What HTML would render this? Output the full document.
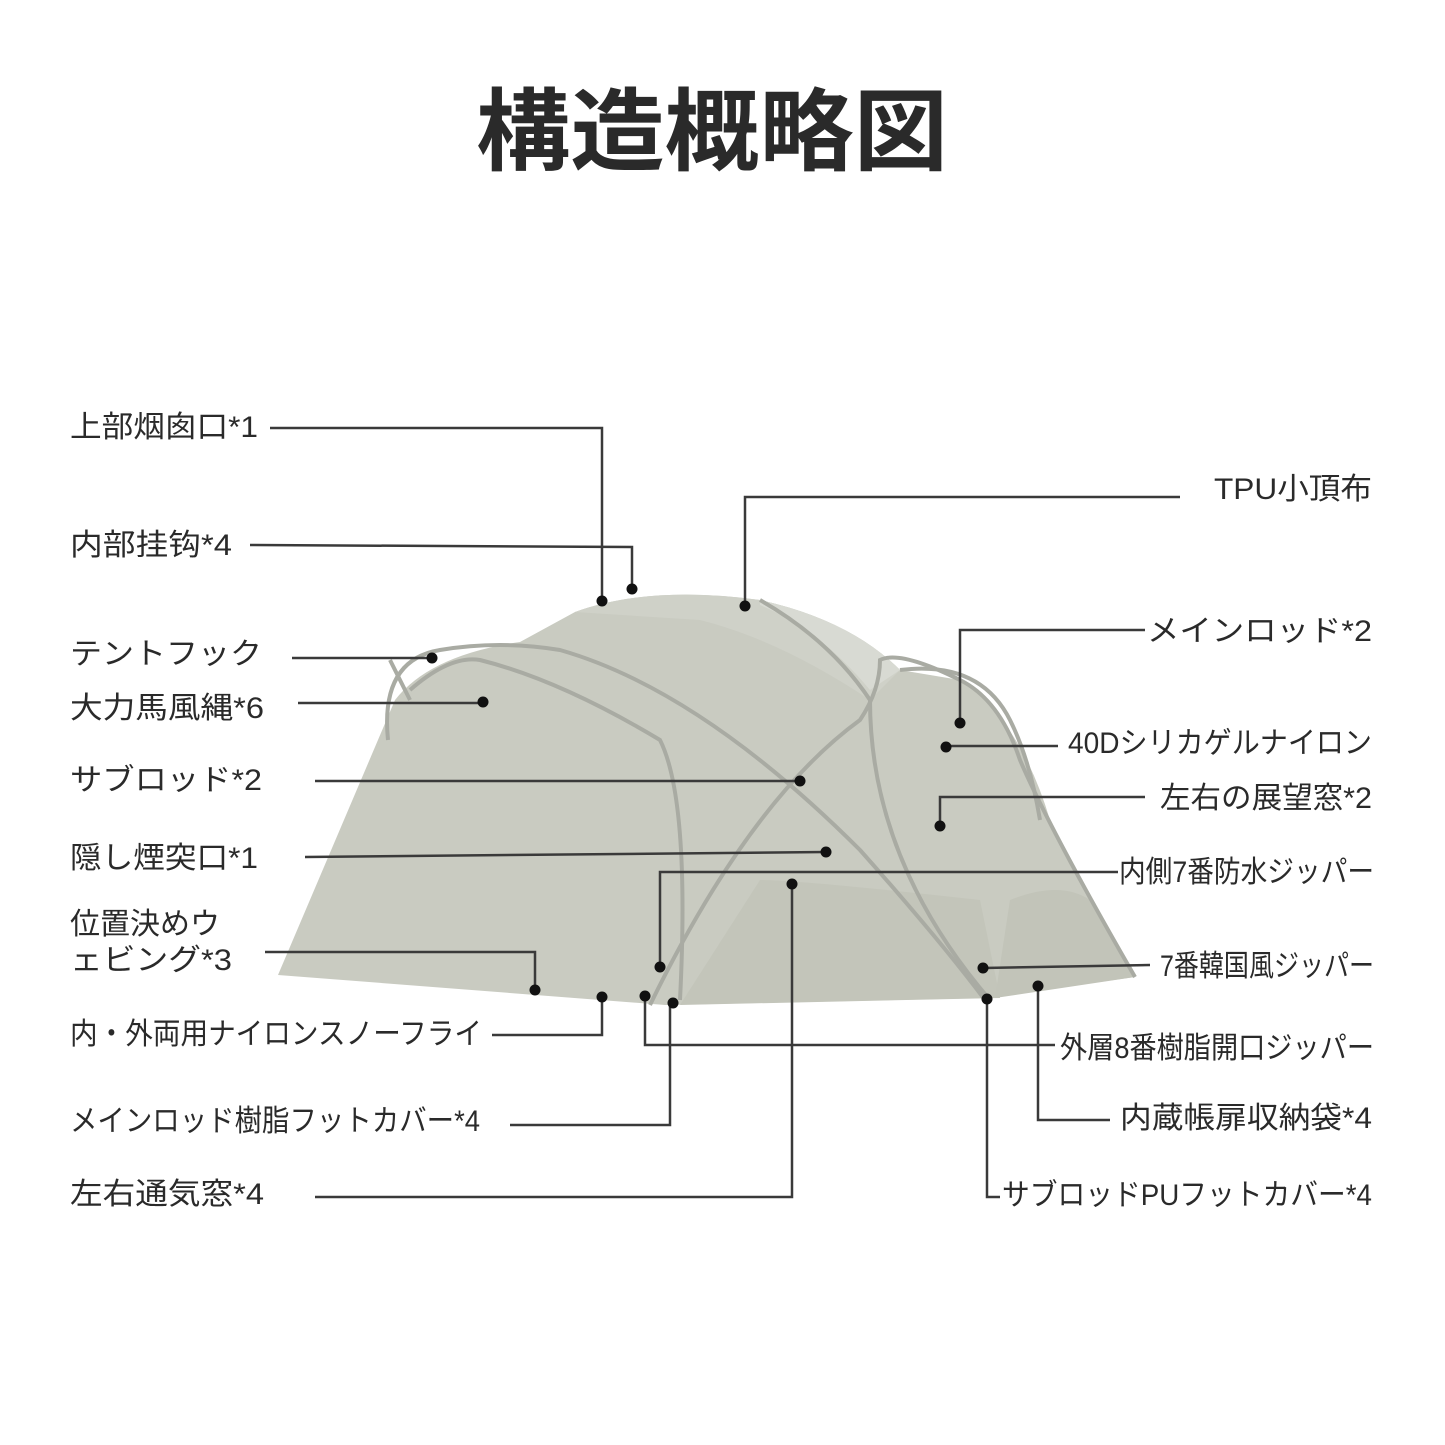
<!DOCTYPE html>
<html><head><meta charset="utf-8"><style>
html,body{margin:0;padding:0;background:#fff}
svg{display:block}
text{font-family:"Liberation Sans","Noto Sans CJK JP",sans-serif;fill:#2a2a2a}
</style></head><body>
<svg width="1445" height="1445" viewBox="0 0 1445 1445" xmlns="http://www.w3.org/2000/svg">
<text x="712" y="163" font-size="90" font-weight="bold" text-anchor="middle" textLength="472" lengthAdjust="spacingAndGlyphs">構造概略図</text>
<!-- tent -->
<g>
<path d="M278,975 L395,700 Q430,655 520,642 L575,612 Q650,585 760,600 Q850,620 900,670 L960,680 Q1020,720 1050,820 L1135,977 L985,998 L665,1005 Z" fill="#c9cbc1"/>
<path d="M575,612 Q650,585 760,600 Q850,620 900,670 L870,700 Q780,640 700,620 Z" fill="#cfd1c8"/>
<path d="M760,600 Q850,620 900,670 L870,690 Q820,630 760,605 Z" fill="#d8dad3"/>
<path d="M760,880 Q800,880 980,900 L1000,998 L680,1005 Z" fill="#c3c5ba"/>
<path d="M1010,900 Q1060,880 1090,900 L1135,977 L995,998 Z" fill="#c2c4b9"/>
<g fill="none" stroke="#a9aba3" stroke-width="4">
<path d="M388,740 Q380,660 440,650 Q500,640 560,650 Q700,690 860,850 Q940,940 985,1000"/>
<path d="M410,690 Q450,655 480,660 Q560,680 660,740 Q690,800 680,1000"/>
<path d="M390,660 L410,700"/>
<path d="M650,1005 Q750,800 860,720 Q880,690 880,660 Q900,650 960,680 Q1000,700 1020,760 Q1050,830 1135,977"/>
<path d="M900,670 Q980,660 1010,720 Q1030,760 1040,820"/>
<path d="M760,600 Q830,640 870,700 Q870,860 990,1000"/>
</g>
</g>
<!-- connector lines -->
<g fill="none" stroke="#3a3a3a" stroke-width="2.5">
<path d="M270,428 H602 V601"/>
<path d="M250,545 L632,547 V589"/>
<path d="M1180,497 H745 V606"/>
<path d="M292,658 H432"/>
<path d="M298,703 H483"/>
<path d="M1145,630 H960 V723"/>
<path d="M1058,746 H946"/>
<path d="M315,781 H800"/>
<path d="M1145,797 H940 V826"/>
<path d="M305,857 L826,852"/>
<path d="M1118,872 H660 V967"/>
<path d="M315,1197 H792 V884"/>
<path d="M265,952 H535 V990"/>
<path d="M1150,965 L983,968"/>
<path d="M492,1035 H602 V997"/>
<path d="M1055,1045 H645 V996"/>
<path d="M1000,1197 H987 V999"/>
<path d="M1110,1120 H1038 V986"/>
<path d="M510,1125 H670 V1003"/>
</g>
<g fill="#111">
<circle cx="602" cy="601" r="5.5"/><circle cx="632" cy="589" r="5.5"/><circle cx="745" cy="606" r="5.5"/>
<circle cx="432" cy="658" r="5.5"/><circle cx="483" cy="702" r="5.5"/><circle cx="960" cy="723" r="5.5"/>
<circle cx="946" cy="747" r="5.5"/><circle cx="800" cy="781" r="5.5"/><circle cx="940" cy="826" r="5.5"/>
<circle cx="826" cy="852" r="5.5"/><circle cx="660" cy="967" r="5.5"/><circle cx="792" cy="884" r="5.5"/>
<circle cx="535" cy="990" r="5.5"/><circle cx="983" cy="968" r="5.5"/><circle cx="602" cy="997" r="5.5"/>
<circle cx="645" cy="996" r="5.5"/><circle cx="987" cy="999" r="5.5"/><circle cx="1038" cy="986" r="5.5"/>
<circle cx="673" cy="1003" r="5.5"/>
</g>
<!-- labels -->
<g font-size="30">
<text x="70" y="437" textLength="188" lengthAdjust="spacingAndGlyphs">上部烟囱口*1</text>
<text x="70" y="555" textLength="162" lengthAdjust="spacingAndGlyphs">内部挂钩*4</text>
<text x="70" y="664" textLength="192" lengthAdjust="spacingAndGlyphs">テントフック</text>
<text x="70" y="718" textLength="194" lengthAdjust="spacingAndGlyphs">大力馬風縄*6</text>
<text x="70" y="790" textLength="192" lengthAdjust="spacingAndGlyphs">サブロッド*2</text>
<text x="70" y="868" textLength="188" lengthAdjust="spacingAndGlyphs">隠し煙突口*1</text>
<text x="70" y="934">位置決めウ</text>
<text x="70" y="970" textLength="162" lengthAdjust="spacingAndGlyphs">ェビング*3</text>
<text x="70" y="1044" textLength="412" lengthAdjust="spacingAndGlyphs">内・外両用ナイロンスノーフライ</text>
<text x="70" y="1131" textLength="410" lengthAdjust="spacingAndGlyphs">メインロッド樹脂フットカバー*4</text>
<text x="70" y="1204" textLength="194" lengthAdjust="spacingAndGlyphs">左右通気窓*4</text>
</g>
<g font-size="30" text-anchor="end">
<text x="1372" y="499" textLength="158" lengthAdjust="spacingAndGlyphs">TPU小頂布</text>
<text x="1372" y="641" textLength="225" lengthAdjust="spacingAndGlyphs">メインロッド*2</text>
<text x="1372" y="753" textLength="304" lengthAdjust="spacingAndGlyphs">40Dシリカゲルナイロン</text>
<text x="1372" y="808" textLength="212" lengthAdjust="spacingAndGlyphs">左右の展望窓*2</text>
<text x="1374" y="882" textLength="255" lengthAdjust="spacingAndGlyphs">内側7番防水ジッパー</text>
<text x="1374" y="976" textLength="214" lengthAdjust="spacingAndGlyphs">7番韓国風ジッパー</text>
<text x="1374" y="1058" textLength="314" lengthAdjust="spacingAndGlyphs">外層8番樹脂開口ジッパー</text>
<text x="1372" y="1128" textLength="252" lengthAdjust="spacingAndGlyphs">内蔵帳扉収納袋*4</text>
<text x="1372" y="1205" textLength="370" lengthAdjust="spacingAndGlyphs">サブロッドPUフットカバー*4</text>
</g>
</svg>
</body></html>
